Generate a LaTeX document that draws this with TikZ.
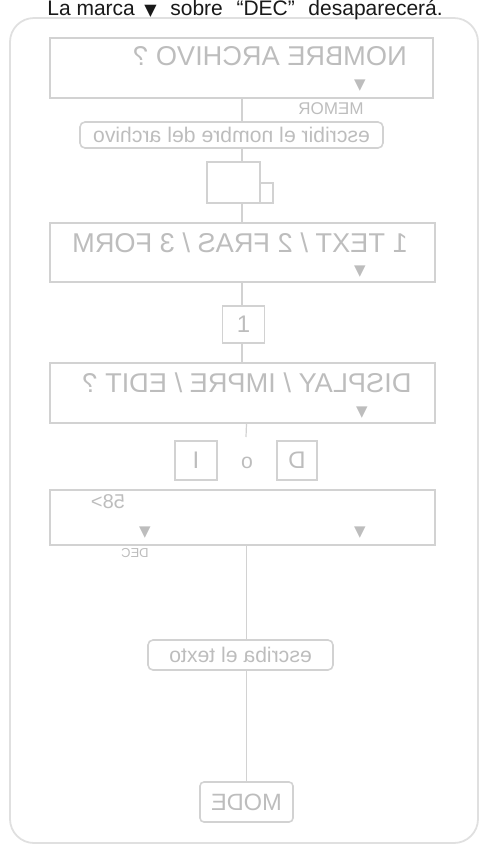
\documentclass[tikz,border=0pt]{standalone}
\usepackage{fontspec}
\setmainfont{Liberation Sans}
\newfontfamily\simbolos{DejaVu Sans}
\usepackage{graphicx}
\usetikzlibrary{positioning}
\definecolor{trazo}{HTML}{D2D2D2}
\definecolor{letra}{HTML}{BDBDBD}
\definecolor{borde}{HTML}{E0E0E0}
\newcommand{\espejo}[1]{\reflectbox{#1}}

\begin{document}
\begin{tikzpicture}[
  x=0.5pt, y=-0.5pt,
  fondo/.style={draw=borde, line width=0.9pt, rounded corners=12pt, minimum width=234pt, minimum height=412.5pt, inner sep=0pt},
  panel/.style={draw=trazo, line width=0.8pt, minimum width=192.5pt, minimum height=30pt, inner sep=0pt},
  tecla/.style={draw=trazo, line width=0.8pt, minimum width=21pt, minimum height=19.5pt, inner sep=0pt, text=letra, font=\fontsize{12}{12}\selectfont},
  nota/.style={draw=trazo, line width=0.8pt, rounded corners=2.5pt, minimum height=13pt, inner sep=0pt, text=letra, font=\fontsize{10.6}{12}\selectfont},
  rotulo/.style={text=letra, inner sep=0pt, font=\fontsize{13.6}{14}\selectfont},
  marca/.style={text=letra, inner sep=0pt, font=\simbolos\fontsize{7.5}{8}\selectfont},
  chico/.style={text=letra, inner sep=0pt, font=\fontsize{8.5}{9}\selectfont},
  link/.style={draw=trazo, line width=0.6pt}
]
\useasboundingbox (0,0) rectangle (481,847);
\node[fondo] (marco) at (244,430.5) {};
\node[anchor=base west, inner sep=0pt, text=black!90, font=\fontsize{10.5}{12}\selectfont] (aviso) at (47,15)
  {La marca\hspace{0.45em}{\simbolos\fontsize{8}{8}\selectfont ▼}\hspace{0.65em}sobre\hspace{0.65em}“DEC”\hspace{0.65em}desaparecerá.};

\node[panel, minimum width=191.5pt] (nombre) at (241.5,68) {};
\node[rotulo] (nombretxt) at (270,56) {\espejo{NOMBRE ARCHIVO ?}};
\node[marca] (mk1) at (360,86) {▼};
\node[chico] (memor) at (331,109) {\espejo{MEMOR}};

\node[nota, minimum width=151.5pt] (escribir) at (231.5,135) {\espejo{escribir el nombre del archivo}};

\node[tecla, minimum width=26.5pt, minimum height=20.5pt] (intro) at (233.5,182.5) {};
\node[tecla, minimum width=6.5pt, minimum height=10pt] (introb) at (266.5,193) {};

\node[panel, minimum height=29.5pt] (tipo) at (242.5,252.5) {};
\node[rotulo] (tipotxt) at (240,243) {\espejo{1 TEXT / 2 FRAS / 3 FORM}};
\node[marca] (mk2) at (360,272) {▼};

\node[tecla, minimum height=18.5pt] (uno) at (243.5,324.5) {1};

\node[panel] (modo) at (242.5,393) {};
\node[rotulo] (modotxt) at (247,383) {\espejo{DISPLAY / IMPRE / EDIT ?}};
\node[marca] (mk3) at (362,413) {▼};
\coordinate (corte) at (246,437);

\node[tecla] (teclaI) at (196,460.5) {I};
\node[text=letra, inner sep=0pt, font=\fontsize{10.6}{12}\selectfont] (o) at (247,463) {o};
\node[tecla, minimum width=20pt] (teclaD) at (297,460.5) {\espejo{D}};

\node[panel, minimum height=27.5pt] (pantalla) at (242.5,517.5) {};
\node[chico, font=\fontsize{10}{10}\selectfont] (cursor) at (108,502) {\espejo{58>}};
\node[marca] (mk4) at (145,533) {▼};
\node[marca] (mk5) at (360,533) {▼};
\node[chico, font=\fontsize{6.5}{7}\selectfont] (dec) at (135,553) {\espejo{DEC}};

\node[nota, minimum width=92.5pt, minimum height=15pt] (texto) at (240.5,655) {\espejo{escriba el texto}};

\node[tecla, rounded corners=2pt, minimum width=46.5pt, minimum height=20pt, font=\fontsize{11.8}{12}\selectfont] (mode) at (246.5,802) {\espejo{MODE}};

\coordinate (eje) at (242,0);
\coordinate (eje2) at (246.5,0);
\draw[link] (nombre.south -| eje) -- (escribir.north -| eje);
\draw[link] (escribir.south -| eje) -- (intro.north -| eje);
\draw[link] (intro.south -| eje) -- (tipo.north -| eje);
\draw[link] (tipo.south -| eje) -- (uno.north -| eje);
\draw[link] (uno.south -| eje) -- (modo.north -| eje);
\draw[link] (modo.south -| eje2) -- (corte);
\draw[link] (pantalla.south -| eje2) -- (texto.north -| eje2);
\draw[link] (texto.south -| eje2) -- (mode);
\end{tikzpicture}
\end{document}
